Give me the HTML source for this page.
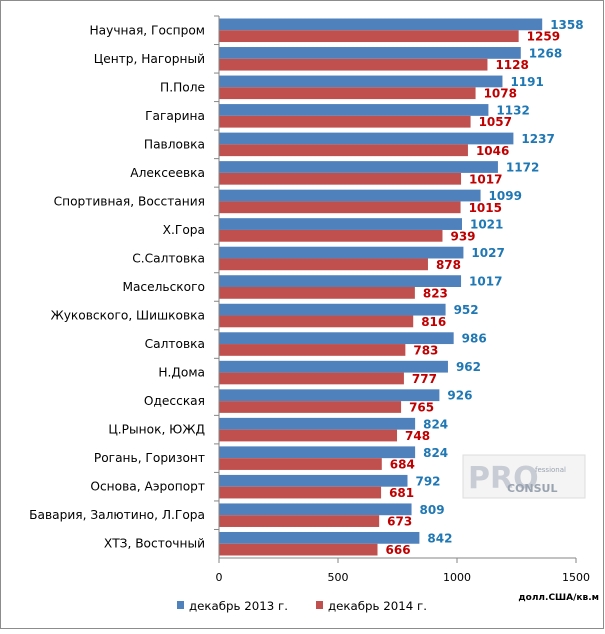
<!DOCTYPE html>
<html><head><meta charset="utf-8"><style>
body{margin:0;background:#fff;font-family:"DejaVu Sans","Liberation Sans",sans-serif}
svg text{font-family:"DejaVu Sans","Liberation Sans",sans-serif}
</style></head><body>
<svg id="c" width="605" height="630">
<rect x="0.5" y="0.5" width="603" height="628" fill="#fff" stroke="#8c8c8c"/>
<g id="bars"></g>
<g>
<rect x="463" y="455" width="122" height="43" fill="#f4f4f4" stroke="#ddd"/>
<text x="468" y="488" font-size="30" font-family="Liberation Serif" fill="#c8ccd4" font-weight="bold">PRO</text>
<text x="507" y="492" font-size="11" fill="#9aa3b0" font-weight="bold">CONSUL</text>
<text x="535" y="472" font-size="7" fill="#9aa3b0">fessional</text>
</g>
</svg>
<script>
const categories=["Научная, Госпром","Центр, Нагорный","П.Поле","Гагарина","Павловка","Алексеевка","Спортивная, Восстания","Х.Гора","С.Салтовка","Масельского","Жуковского, Шишковка","Салтовка","Н.Дома","Одесская","Ц.Рынок, ЮЖД","Рогань, Горизонт","Основа, Аэропорт","Бавария, Залютино, Л.Гора","ХТЗ, Восточный"];
const values2013=[1358,1268,1191,1132,1237,1172,1099,1021,1027,1017,952,986,962,926,824,824,792,809,842];
const values2014=[1259,1128,1078,1057,1046,1017,1015,939,878,823,816,783,777,765,748,684,681,673,666];
const ticks=[0,500,1000,1500];
const NS="http://www.w3.org/2000/svg";
const x0=219,x1=576,yTop=16,yBot=558;
const xs=v=>x0+(x1-x0)*v/1500;
const band=(yBot-yTop)/categories.length;
const g=document.getElementById('bars');
function mk(tag,attrs,txt){const e=document.createElementNS(NS,tag);for(const k in attrs)e.setAttribute(k,attrs[k]);if(txt!=null)e.textContent=txt;g.appendChild(e);return e;}
const bh=(band-5)/2;
categories.forEach((c,i)=>{
 const yb=yTop+i*band+2.5;
 let r=mk('rect',{x:x0,y:yb,width:xs(values2013[i])-x0,height:bh,fill:'#4f81bd'});
 
 
 r=mk('rect',{x:x0,y:yb+bh,width:xs(values2014[i])-x0,height:bh,fill:'#c0504d'});
 
 
 let t=mk('text',{x:xs(values2013[i])+8,y:yb+bh/2+4.5,'font-size':12,'font-weight':'bold',fill:'#1f77b4'},values2013[i]);
 
 
 t=mk('text',{x:xs(values2014[i])+8,y:yb+bh*1.5+4.5,'font-size':12,'font-weight':'bold',fill:'#c00000'},values2014[i]);
 
 
 t=mk('text',{x:205,y:yTop+(i+0.5)*band+4,'font-size':12.2,'text-anchor':'end',fill:'#000'},c);
 
 
 const tk=mk('line',{x1:x0-5,x2:x0,y1:yTop+i*band,y2:yTop+i*band,stroke:'#868686'});
 
 
});
let ax=mk('line',{x1:x0,x2:x0,y1:yTop,y2:yBot+5,stroke:'#868686'});


ax=mk('line',{x1:x0,x2:x1,y1:yBot,y2:yBot,stroke:'#868686'});


ticks.forEach(v=>{
 const l=mk('line',{x1:xs(v),x2:xs(v),y1:yBot,y2:yBot+5,stroke:'#868686'});
 
 
 const t=mk('text',{x:xs(v),y:581,'font-size':11,'text-anchor':'middle'},v);
 
 
});
let u=mk('text',{x:599,y:600,'font-size':9,'font-weight':'bold','text-anchor':'end'},'долл.США/кв.м');


[[177,'#4f81bd','декабрь 2013 г.'],[316,'#c0504d','декабрь 2014 г.']].forEach(([x,col,lab])=>{
 const s=mk('rect',{x:x,y:601,width:7,height:8,fill:col});
 
 
 const t=mk('text',{x:x+12,y:610,'font-size':11.8},lab);
 
 
});
</script>
</body></html>
